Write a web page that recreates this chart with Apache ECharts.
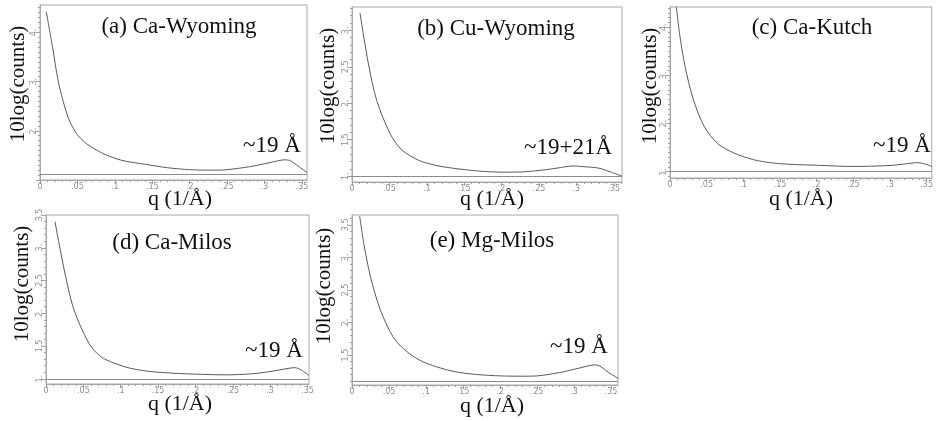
<!DOCTYPE html>
<html><head><meta charset="utf-8">
<script src="https://cdn.jsdelivr.net/npm/echarts@6/dist/echarts.min.js"></script>
<style>html,body{margin:0;padding:0;background:#fff}#c{width:936px;height:421px}</style>
</head><body><div id="c"></div>
<script>
// ---- data ----
var panelTitles = ['(a) Ca-Wyoming', '(b) Cu-Wyoming', '(c) Ca-Kutch', '(d) Ca-Milos', '(e) Mg-Milos'];
var peakLabels = ['~19 Å', '~19+21Å', '~19 Å', '~19 Å', '~19 Å'];
var yAxisTitle = '10log(counts)';
var xAxisTitle = 'q (1/Å)';

var qA = [0.0084, 0.0174, 0.025, 0.0374, 0.0485, 0.062, 0.084, 0.109, 0.140, 0.17, 0.2, 0.23, 0.25, 0.28, 0.3, 0.315, 0.326, 0.333, 0.345, 0.357];
var yA = [4.42, 3.64, 2.96, 2.28, 1.95, 1.74, 1.54, 1.40, 1.32, 1.25, 1.21, 1.20, 1.21, 1.27, 1.33, 1.38, 1.41, 1.40, 1.28, 1.15];

var qB = [0.0107, 0.0151, 0.0227, 0.033, 0.0508, 0.0664, 0.0887, 0.111, 0.138, 0.17, 0.2, 0.23, 0.26, 0.28, 0.295, 0.31, 0.33, 0.345, 0.361];
var yB = [3.24, 2.95, 2.50, 2.04, 1.585, 1.36, 1.22, 1.15, 1.105, 1.07, 1.055, 1.06, 1.09, 1.12, 1.14, 1.13, 1.11, 1.06, 1.0];

var qC = [0.0085, 0.013, 0.0206, 0.032, 0.0467, 0.0646, 0.087, 0.114, 0.141, 0.17, 0.2, 0.25, 0.3, 0.325, 0.338, 0.35, 0.357];
var yC = [4.45, 3.87, 3.18, 2.49, 1.94, 1.59, 1.39, 1.25, 1.18, 1.15, 1.135, 1.11, 1.13, 1.17, 1.19, 1.15, 1.11];

var qD = [0.012, 0.0174, 0.0263, 0.0375, 0.0575, 0.073, 0.091, 0.113, 0.14, 0.17, 0.2, 0.24, 0.275, 0.3, 0.32, 0.333, 0.342, 0.352];
var yD = [3.40, 3.07, 2.56, 2.05, 1.54, 1.34, 1.24, 1.16, 1.11, 1.085, 1.07, 1.06, 1.075, 1.11, 1.15, 1.17, 1.13, 1.05];

var qE = [0.0104, 0.0158, 0.025, 0.0384, 0.0555, 0.0713, 0.0916, 0.114, 0.141, 0.17, 0.2, 0.23, 0.25, 0.28, 0.3, 0.318, 0.328, 0.335, 0.347, 0.36];
var yE = [3.63, 3.22, 2.70, 2.19, 1.78, 1.58, 1.42, 1.32, 1.24, 1.20, 1.18, 1.175, 1.18, 1.23, 1.28, 1.33, 1.35, 1.33, 1.23, 1.14];

var baseLines = [1.12, 1.0, 1.0, 1.0, 1.1];
var xTickLabels = [0, 0.05, 0.1, 0.15, 0.2, 0.25, 0.3, 0.35];
var yTickA = [2, 3, 4], yTickB = [1, 1.5, 2, 2.5, 3], yTickC = [1, 2, 3, 4], yTickD = [1, 1.5, 2, 2.5, 3, 3.5], yTickE = [1.5, 2, 2.5, 3, 3.5];

// ---- layout ----
var panels = [
  {q: qA, y: yA, yt: yTickA, ymaj: [1, 2, 3, 4], grid: {left: 40, top: 5, width: 267, height: 175}, ymin: 1.0, ymax: 4.555, xmax: 0.3567,
   title: [179, 27], ylab: [18, 84], peak: [272, 146], xlab: [180, 199]},
  {q: qB, y: yB, yt: yTickB, ymaj: yTickB, grid: {left: 352, top: 7, width: 270, height: 175}, ymin: 0.92, ymax: 3.32, xmax: 0.361,
   title: [496, 29], ylab: [328, 86], peak: [568, 148], xlab: [492, 199]},
  {q: qC, y: yC, yt: yTickC, ymaj: yTickC, grid: {left: 670, top: 7, width: 265, height: 171}, ymin: 0.87, ymax: 4.42, xmax: 0.357,
   title: [812, 28], ylab: [650, 86], peak: [902, 146], xlab: [801, 199]},
  {q: qD, y: yD, yt: yTickD, ymaj: yTickD, grid: {left: 46, top: 215, width: 263, height: 169}, ymin: 0.92, ymax: 3.5, xmax: 0.352,
   title: [172, 243], ylab: [22, 284], peak: [274, 351], xlab: [180, 404]},
  {q: qE, y: yE, yt: yTickE, ymaj: [1.5, 2, 2.5, 3, 3.5], grid: {left: 352, top: 215, width: 266, height: 170}, ymin: 1.04, ymax: 3.65, xmax: 0.3595,
   title: [492, 241], ylab: [324, 286], peak: [579, 347], xlab: [492, 406]}
];

function steps(a, b, s) { var r = []; for (var v = a; v <= b + 1e-9; v += s) r.push(Math.round(v * 1000) / 1000); return r; }
function fmtY(v) { return (Math.round(v) === v) ? (v + '.') : String(v); }
function fmtX(v) { return v === 0 ? '0' : String(v).replace(/^0/, ''); }

var serif = '"Liberation Serif", "Times New Roman", serif';
var grids = [], xAxes = [], yAxes = [], series = [], graphics = [];
var frameColor = '#a8a8a8', tickColor = '#a0a0a0', labColor = '#8f8f8f';

panels.forEach(function (p, i) {
  grids.push(Object.assign({show: true, borderColor: frameColor, borderWidth: 1, backgroundColor: '#fff'}, p.grid));
  var xMinor = steps(0, p.xmax, 0.01);
  var yMinor = steps(Math.ceil(p.ymin * 10) / 10, p.ymax, 0.1);
  xAxes.push({type: 'value', gridIndex: i, min: 0, max: p.xmax, position: 'bottom',
    axisLine: {show: true, lineStyle: {color: frameColor}},
    axisTick: {show: true, length: 4, customValues: xTickLabels, lineStyle: {color: tickColor}},
    axisLabel: {show: true, customValues: xTickLabels, formatter: fmtX, fontSize: 8, color: labColor, margin: 3, fontFamily: 'DejaVu Sans'},
    splitLine: {show: false}});
  xAxes.push({type: 'value', gridIndex: i, min: 0, max: p.xmax, position: 'bottom', offset: 0,
    axisLine: {show: false}, axisTick: {show: true, length: 2, customValues: xMinor, lineStyle: {color: tickColor}},
    axisLabel: {show: false}, splitLine: {show: false}});
  yAxes.push({type: 'value', gridIndex: i, min: p.ymin, max: p.ymax, position: 'left',
    axisLine: {show: true, lineStyle: {color: frameColor}},
    axisTick: {show: true, length: 4, customValues: p.ymaj, lineStyle: {color: tickColor}},
    axisLabel: {show: true, customValues: p.yt, formatter: fmtY, fontSize: 8, color: labColor, margin: 2, rotate: 90, fontFamily: 'DejaVu Sans'},
    splitLine: {show: false}});
  yAxes.push({type: 'value', gridIndex: i, min: p.ymin, max: p.ymax, position: 'left', offset: 0,
    axisLine: {show: false}, axisTick: {show: true, length: 2, customValues: yMinor, lineStyle: {color: tickColor}},
    axisLabel: {show: false}, splitLine: {show: false}});
  series.push({type: 'line', xAxisIndex: 2 * i, yAxisIndex: 2 * i, showSymbol: false, smooth: 0.3,
    data: p.q.map(function (q, k) { return [q, p.y[k]]; }),
    lineStyle: {color: '#5a5a5a', width: 1}, clip: true,
    markLine: {silent: true, symbol: 'none', label: {show: false}, animation: false,
      lineStyle: {color: '#8c8c8c', width: 1, type: 'solid'}, data: [{yAxis: baseLines[i]}]}});
  graphics.push({type: 'text', x: p.title[0], y: p.title[1], style: {text: panelTitles[i], font: '23px ' + serif, fill: '#111', textAlign: 'center', textVerticalAlign: 'middle'}});
  graphics.push({type: 'text', x: p.peak[0], y: p.peak[1], style: {text: peakLabels[i], font: '23px ' + serif, fill: '#111', textAlign: 'center', textVerticalAlign: 'middle'}});
  graphics.push({type: 'text', x: p.xlab[0], y: p.xlab[1], style: {text: xAxisTitle, font: '22px ' + serif, fill: '#111', textAlign: 'center', textVerticalAlign: 'middle'}});
  graphics.push({type: 'text', x: p.ylab[0], y: p.ylab[1], rotation: Math.PI / 2, style: {text: yAxisTitle, font: '21px ' + serif, fill: '#111', textAlign: 'center', textVerticalAlign: 'middle'}});
});

var chart = echarts.init(document.getElementById('c'), null, {renderer: 'canvas'});
chart.setOption({animation: false, backgroundColor: '#fff', grid: grids, xAxis: xAxes, yAxis: yAxes, series: series, graphic: graphics});
</script></body></html>
